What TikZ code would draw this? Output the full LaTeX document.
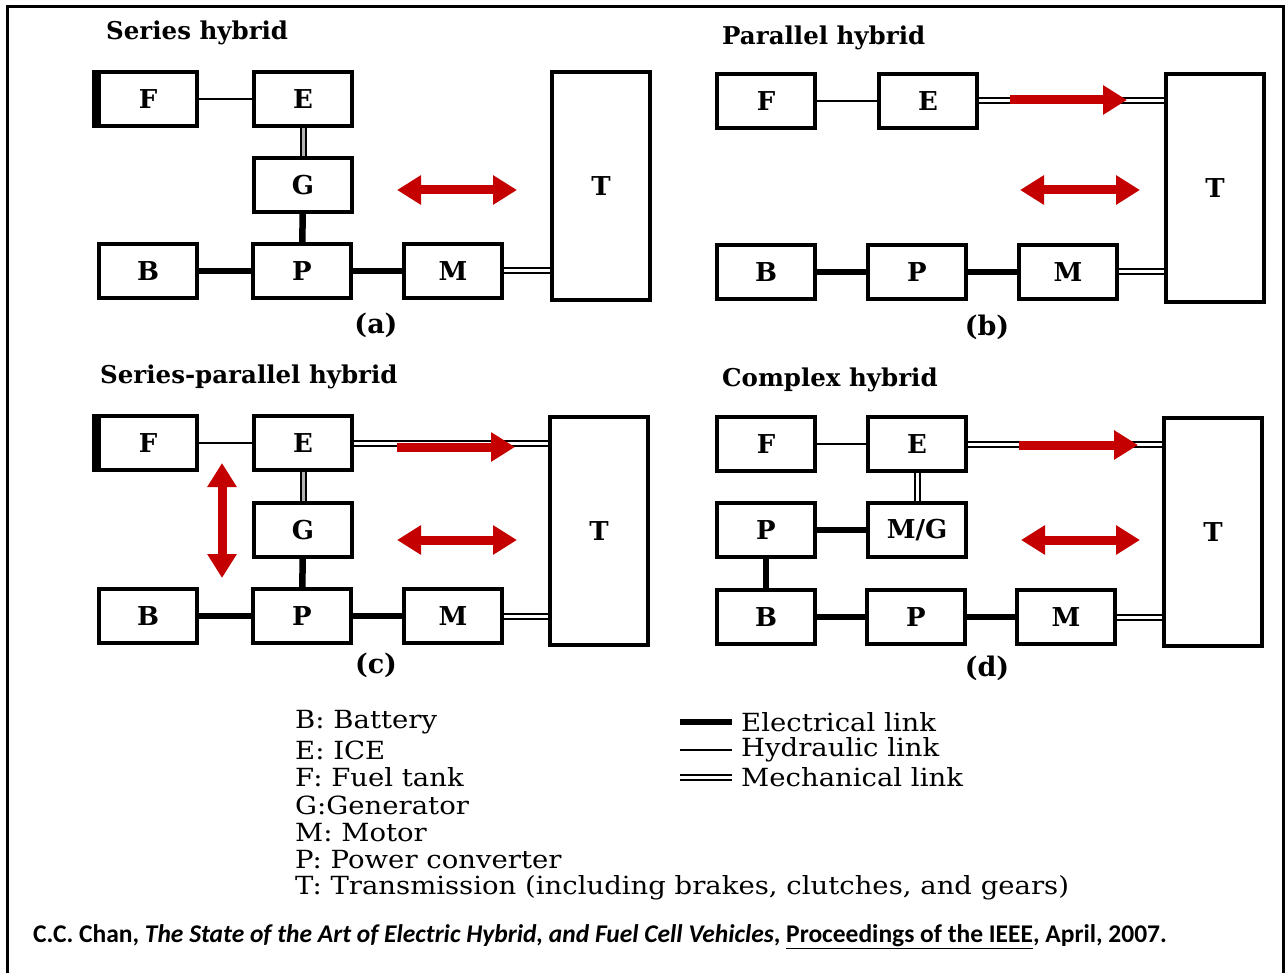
\documentclass[tikz,border=0pt]{standalone}
\usepackage{fontspec}
\setmainfont{DejaVu Serif}
\newfontfamily\keyfont[FakeStretch=1.1]{DejaVu Serif}
\newfontfamily\capfont{Carlito}
\usetikzlibrary{arrows.meta}
\definecolor{flowred}{RGB}{196,0,0}

\begin{document}
\begin{tikzpicture}[x=1pt,y=-1pt,
  blk/.style={draw, line width=4pt, minimum width=98pt, minimum height=54pt,
    inner sep=0pt, font=\bfseries\fontsize{26}{28}\selectfont},
  tall/.style={blk, minimum height=228pt},
  hyd/.style={line width=2.5pt},
  elec/.style={line width=6.5pt},
  mech/.style={double, line width=2pt, double distance=3pt},
  mechg/.style={mech, double=gray!60},
  edge/.style={line width=7pt},
  flow/.style={flowred, line width=9pt, -{Triangle[length=24pt,width=28pt]}},
  flows/.style={flowred, line width=9pt,
    {Triangle[length=24pt,width=28pt]}-{Triangle[length=24pt,width=28pt]}},
  ttl/.style={anchor=west, inner sep=0pt, font=\bfseries\fontsize{24.5}{27}\selectfont},
  sub/.style={font=\bfseries\fontsize{27}{29}\selectfont},
  key/.style={anchor=west, inner sep=0pt, font=\keyfont\fontsize{25}{28}\selectfont}]
  \useasboundingbox (0,0) rectangle (1287,973);
  \draw[line width=3pt] (7,990) -- (7,7) -- (1283,7) -- (1283,990);

  % (a) series hybrid
  \node[ttl] (aTitle) at (106,33) {Series hybrid};
  \node[blk] (aF) at (148,99) {F};
  \node[blk] (aE) at (303,99) {E};
  \node[blk] (aG) at (303,185) {G};
  \node[blk] (aB) at (148,271) {B};
  \node[blk] (aP) at (302,271) {P};
  \node[blk] (aM) at (453,271) {M};
  \node[tall] (aT) at (601,186) {T};
  \draw[edge] ([xshift=-1.5pt]aF.north west) -- ([xshift=-1.5pt]aF.south west);
  \draw[hyd] (aF) -- (aE);
  \draw[mechg] (aE) -- (aG);
  \draw[elec] (aG) -- (aP);
  \draw[elec] (aB) -- (aP);
  \draw[elec] (aP) -- (aM);
  \draw[mech] (aM) -- (aM -| aT.west);
  \coordinate (aL) at (397,190);
  \coordinate (aR) at (517,190);
  \draw[flows] (aL) -- (aR);
  \node[sub] (aLab) at (376,325) {(a)};

  % (b) parallel hybrid
  \node[ttl] (bTitle) at (722,38) {Parallel hybrid};
  \node[blk] (bF) at (766,101) {F};
  \node[blk] (bE) at (928,101) {E};
  \node[blk] (bB) at (766,272) {B};
  \node[blk] (bP) at (917,272) {P};
  \node[blk] (bM) at (1068,272) {M};
  \node[tall] (bT) at (1215,188) {T};
  \draw[hyd] (bF) -- (bE);
  \draw[mech] (bE) -- (bE -| bT.west);
  \draw[elec] (bB) -- (bP);
  \draw[elec] (bP) -- (bM);
  \draw[mech] (bM) -- (bM -| bT.west);
  \coordinate (bU1) at (1010,100);
  \coordinate (bU2) at (1127,100);
  \draw[flow] (bU1) -- (bU2);
  \coordinate (bL) at (1020,190);
  \coordinate (bR) at (1140,190);
  \draw[flows] (bL) -- (bR);
  \node[sub] (bLab) at (987,327) {(b)};

  % (c) series-parallel hybrid
  \node[ttl] (cTitle) at (100,377) {Series-parallel hybrid};
  \node[blk] (cF) at (148,443) {F};
  \node[blk] (cE) at (303,443) {E};
  \node[blk] (cG) at (303,530) {G};
  \node[blk] (cB) at (148,616) {B};
  \node[blk] (cP) at (302,616) {P};
  \node[blk] (cM) at (453,616) {M};
  \node[tall] (cT) at (599,531) {T};
  \draw[edge] ([xshift=-1.5pt]cF.north west) -- ([xshift=-1.5pt]cF.south west);
  \draw[hyd] (cF) -- (cE);
  \draw[mechg] (cE) -- (cG);
  \draw[mech] (cE) -- (cE -| cT.west);
  \draw[elec] (cG) -- (cP);
  \draw[elec] (cB) -- (cP);
  \draw[elec] (cP) -- (cM);
  \draw[mech] (cM) -- (cM -| cT.west);
  \coordinate (cU1) at (397,447);
  \coordinate (cU2) at (515,447);
  \draw[flow] (cU1) -- (cU2);
  \coordinate (cL) at (397,540);
  \coordinate (cR) at (517,540);
  \draw[flows] (cL) -- (cR);
  \coordinate (cV1) at (222,463);
  \coordinate (cV2) at (222,578);
  \draw[flows] (cV1) -- (cV2);
  \node[sub] (cLab) at (376,665) {(c)};

  % (d) complex hybrid
  \node[ttl] (dTitle) at (722,380) {Complex hybrid};
  \node[blk] (dF) at (766,444) {F};
  \node[blk] (dE) at (917,444) {E};
  \node[blk] (dPt) at (766,530) {P};
  \node[blk] (dMG) at (917,530) {M/G};
  \node[blk] (dB) at (766,617) {B};
  \node[blk] (dP) at (916,617) {P};
  \node[blk] (dM) at (1066,617) {M};
  \node[tall] (dT) at (1213,532) {T};
  \draw[hyd] (dF) -- (dE);
  \draw[mech] (dE) -- (dMG);
  \draw[mech] (dE) -- (dE -| dT.west);
  \draw[elec] (dPt) -- (dMG);
  \draw[elec] (dPt) -- (dB);
  \draw[elec] (dB) -- (dP);
  \draw[elec] (dP) -- (dM);
  \draw[mech] (dM) -- (dM -| dT.west);
  \coordinate (dU1) at (1019,445);
  \coordinate (dU2) at (1138,445);
  \draw[flow] (dU1) -- (dU2);
  \coordinate (dL) at (1021,540);
  \coordinate (dR) at (1140,540);
  \draw[flows] (dL) -- (dR);
  \node[sub] (dLab) at (987,668) {(d)};

  % legend
  \node[key] (kB) at (295,722) {B: Battery};
  \node[key] (kE) at (295,750) {E: ICE};
  \node[key] (kF) at (295,777) {F: Fuel tank};
  \node[key] (kG) at (295,805) {G:Generator};
  \node[key] (kM) at (295,833) {M: Motor};
  \node[key] (kP) at (295,860) {P: Power converter};
  \node[key] (kT) at (295,888) {T: Transmission (including brakes, clutches, and gears)};
  \coordinate (lE1) at (680,722);
  \coordinate (lH1) at (680,750);
  \coordinate (lM1) at (680,777);
  \node[key] (lE) at (741,722) {Electrical link};
  \node[key] (lH) at (741,750) {Hydraulic link};
  \node[key] (lM) at (741,777) {Mechanical link};
  \draw[elec] (lE1) -- ([xshift=-9pt]lE.west);
  \draw[hyd] (lH1) -- ([xshift=-9pt]lH.west);
  \draw[mech] (lM1) -- ([xshift=-9pt]lM.west);

  \node[anchor=west, inner sep=0pt, font=\capfont\bfseries\fontsize{25.5}{28}\selectfont] (cite) at (33,937)
    {C.C. Chan, \textit{The State of the Art of Electric Hybrid, and Fuel Cell Vehicles}, \underline{Proceedings of the IEEE}, April, 2007.};
\end{tikzpicture}
\end{document}
